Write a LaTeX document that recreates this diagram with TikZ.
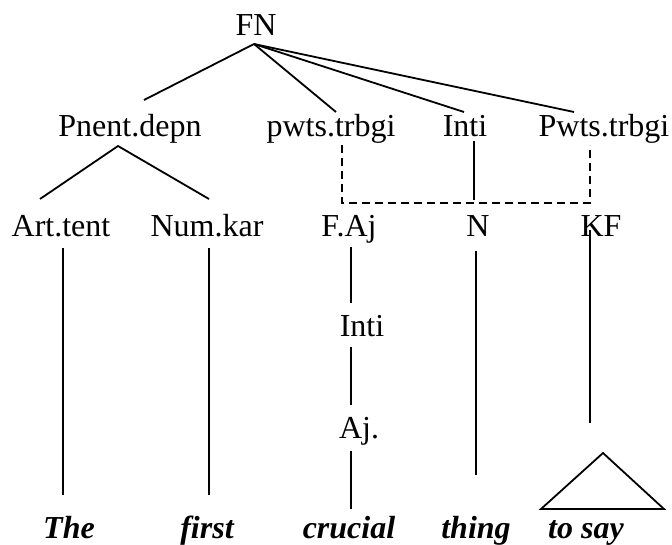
\documentclass[tikz,border=0pt]{standalone}
\usepackage{fontspec}
\setmainfont{Liberation Serif}
\usetikzlibrary{calc}

\tikzset{
	lbl/.style={anchor=base, inner sep=0pt, font=\fontsize{32}{38}\selectfont},
	leaf/.style={lbl, font=\fontsize{32}{38}\selectfont\bfseries\itshape},
	br/.style={line width=1.8pt},
	dsh/.style={line width=1.8pt, dash pattern=on 8pt off 5pt},
}

\begin{document}
\begin{tikzpicture}[x=1pt,y=-1pt]
	\useasboundingbox (0,0) rectangle (672,544);
	% labels
	\node[lbl] (fn) at (256,35) {FN};
	\node[lbl] (pd) at (130,136) {Pnent.depn};
	\node[lbl] (pt) at (331,136) {pwts.trbgi};
	\node[lbl] (in) at (465,136) {Inti};
	\node[lbl] (pw) at (604,136) {Pwts.trbgi};
	\node[lbl] (at) at (61,236) {Art.tent};
	\node[lbl] (nk) at (207,236) {Num.kar};
	\node[lbl] (fa) at (349,236) {F.Aj};
	\node[lbl] (n) at (478,236) {N};
	\node[lbl] (kf) at (601,236) {KF};
	\node[lbl] (in2) at (362,336) {Inti};
	\node[lbl] (aj) at (359,438) {Aj.};
	% words
	\node[leaf] (the) at (69,538) {The};
	\node[leaf] (first) at (207,538) {first};
	\node[leaf] (crucial) at (349,538) {crucial};
	\node[leaf] (thing) at (476,538) {thing};
	\node[leaf] (tosay) at (586,538) {to say};
	%
	\draw[br] ($(fn.base)+(-2,9)$) -- ($(pd.base)+(14,-36)$);
	\draw[br] ($(fn.base)+(-2,9)$) -- ($(pt.base)+(5,-24)$);
	\draw[br] ($(fn.base)+(-2,9)$) -- ($(in.base)+(-1,-24)$);
	\draw[br] ($(fn.base)+(-2,9)$) -- ($(pw.base)+(-30,-24)$);
	\draw[br] ($(at.base)+(-21,-37)$) -- ($(pd.base)+(-12,10)$) -- ($(nk.base)+(2,-37)$);
	%
	\draw[br] ($(at.base)+(2,12)$) -- ($(the.base)+(-6,-43)$);
	\draw[br] ($(nk.base)+(2,12)$) -- ($(first.base)+(2,-43)$);
	\draw[br] ($(fa.base)+(2,11)$) -- ($(in2.base)+(-11,-33)$);
	\draw[br] ($(in2.base)+(-11,11)$) -- ($(aj.base)+(-8,-33)$);
	\draw[br] ($(aj.base)+(-8,13)$) -- ($(crucial.base)+(2,-29)$);
	\draw[br] ($(in.base)+(9,5)$) -- ($(n.base)+(-4,-36)$);
	\draw[br] ($(n.base)+(-2,15)$) -- ($(thing.base)+(0,-63)$);
	\draw[br] ($(kf.base)+(-11,-6)$) -- ($(tosay.base)+(4,-115)$);
	\draw[br] ($(tosay.base)+(17,-85)$) -- ($(tosay.base)+(-45,-29)$) -- ($(tosay.base)+(78,-29)$) -- cycle;
	%
	\draw[dsh] ($(pt.base)+(11,9)$) |- ($(pw.base)+(-14,67)$) -- ($(pw.base)+(-14,9)$);
\end{tikzpicture}
\end{document}
